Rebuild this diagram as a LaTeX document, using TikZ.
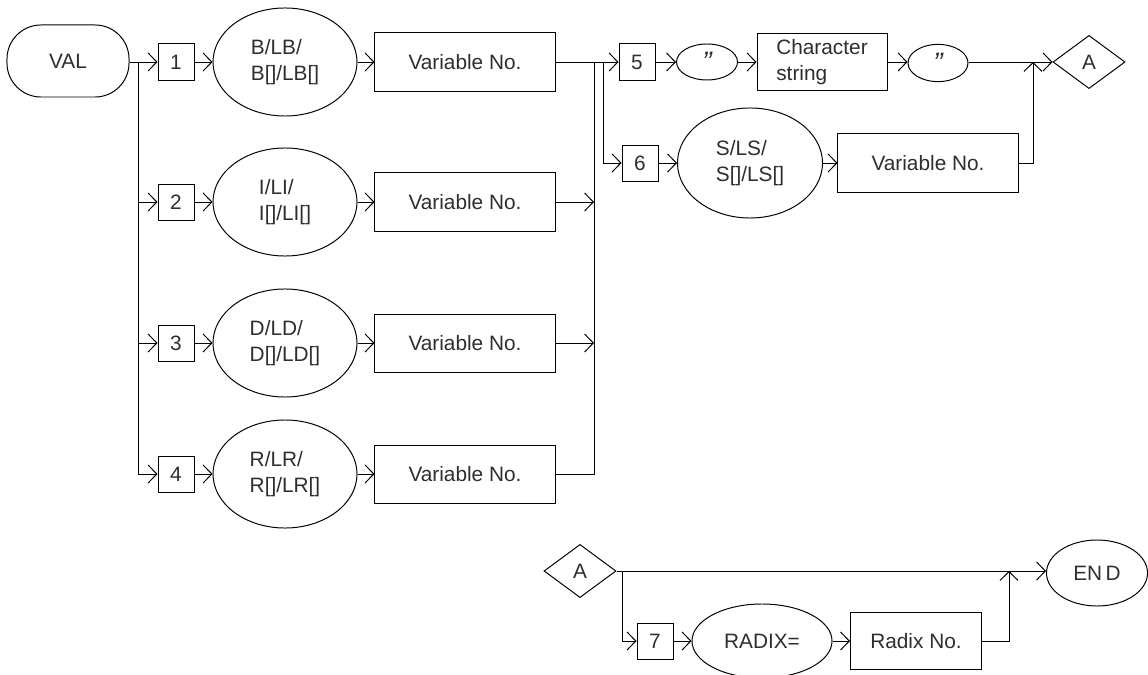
\documentclass[tikz,border=0pt]{standalone}
\usepackage{fontspec}
\setmainfont{Liberation Sans}
\usetikzlibrary{shapes.geometric,arrows.meta}

\newcommand{\quotemark}{\raisebox{-5pt}{\fontsize{20}{20}\selectfont\itshape "}}

\begin{document}
\begin{tikzpicture}[x=0.025cm, y=-0.025cm, line width=0.7pt,
    font=\fontsize{14.8}{18}\selectfont, text=black!82,
    >={Straight Barb[length=6.2pt,width=12.8pt]},
    term/.style={draw, rounded corners=0.85cm, minimum width=3.05cm, minimum height=1.8cm},
    numbox/.style={draw, minimum size=0.9cm, inner sep=0pt},
    oval/.style={draw, ellipse, inner sep=0pt, align=left},
    varbox/.style={draw, minimum width=4.5cm, minimum height=1.45cm},
    decision/.style={draw, diamond, inner sep=0pt, minimum width=1.8cm, minimum height=1.33cm}]
    \useasboundingbox (0,0) rectangle (1148,675);

    % start and the four variable kinds
    \node[term] (val) at (68,61) {VAL};
    \coordinate (split1) at (138,62);
    \foreach \i/\y/\txt in {1/62/{B/LB/\\B[]/LB[]}, 2/202/{I/LI/\\I[]/LI[]},
                            3/343/{D/LD/\\D[]/LD[]}, 4/474/{R/LR/\\R[]/LR[]}} {
        \node[numbox] (n\i) at (176,\y) {\i};
        \node[oval, minimum width=3.6cm, minimum height=2.7cm] (e\i) at (285,\y) {\txt};
        \node[varbox] (v\i) at (465,\y) {Variable No.};
        \draw[->] (n\i) -- (e\i);
        \draw[->] (e\i) -- (v\i);
    }
    \draw[->] (val.east |- split1) -- (n1.west);
    \foreach \i in {2,3,4} {
        \draw[->] (split1) |- (n\i.west);
    }

    % collect the rows
    \coordinate (join) at (594,62);
    \coordinate (split2) at (603,62);
    \draw[->] (v2.east) -- (v2.east -| join);
    \draw[->] (v3.east) -- (v3.east -| join);
    \draw (v4.east) -| (join);

    % string or string variable
    \node[numbox] (n5) at (637,62) {5};
    \node[oval, minimum width=1.525cm, minimum height=0.9cm] (q1) at (707,62) {\quotemark};
    \node[draw, minimum width=3.25cm, minimum height=1.425cm, align=left] (chr) at (822,62) {Character\\string};
    \node[oval, minimum width=1.5cm, minimum height=0.93cm] (q2) at (938,63) {\quotemark};
    \node[decision] (a1) at (1089,62) {A};
    \draw[->] (v1.east) -- (n5.west);
    \draw[->] (n5) -- (q1);
    \draw[->] (q1) -- (chr);
    \draw[->] (chr) -- (q2.west |- chr);
    \draw[->] (q2.east |- a1) -- (a1.west);

    \node[numbox] (n6) at (640,163) {6};
    \node[oval, minimum width=3.625cm, minimum height=2.75cm] (es) at (750,163) {S/LS/\\S[]/LS[]};
    \node[varbox] (v6) at (928,163) {Variable No.};
    \draw[->] (split2) |- (n6.west);
    \draw[->] (n6) -- (es);
    \draw[->] (es) -- (v6);
    \coordinate (merge1) at (1033,62);
    \draw[->] (v6.east) -| (merge1);

    % radix
    \node[decision] (a2) at (580,571) {A};
    \node[oval, minimum width=2.525cm, minimum height=1.65cm] (endn) at (1097,573) {EN\,D};
    \coordinate (split3) at (622,571);
    \node[numbox] (n7) at (655,641) {7};
    \node[oval, minimum width=3.5cm, minimum height=1.85cm] (rad) at (762,641) {RADIX=};
    \node[draw, minimum width=3.275cm, minimum height=1.425cm] (radno) at (916,641) {Radix No.};
    \coordinate (merge2) at (1009,571);
    \draw[->] (a2.east) -- (endn.west |- a2.east);
    \draw[->] (split3) |- (n7.west);
    \draw[->] (n7) -- (rad);
    \draw[->] (rad) -- (radno);
    \draw[->] (radno.east) -| (merge2);
\end{tikzpicture}
\end{document}
